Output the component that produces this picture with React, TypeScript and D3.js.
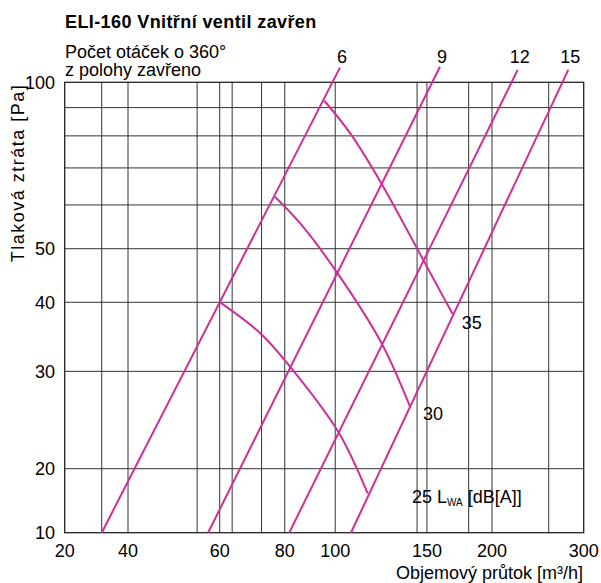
import React from "react";
import * as d3 from "d3";

// axis ticks (labels as printed on the chart)
const X_TICKS = [20, 40, 60, 80, 100, 150, 200, 300];
const Y_TICKS = [10, 20, 30, 40, 50, 100];
// grid lines
const X_GRID = [30, 40, 54.3, 60, 63.4, 72.2, 80, 100, 143.6, 150, 180.4, 200, 257];
const Y_GRID = [20, 30, 40, 50, 60, 70, 80, 90];

// valve-turn lines [flow m3/h, pressure Pa]
const TURN_LABELS = ["6", "9", "12", "15"];
const turn6 = [[30.0, 10], [102.1, 106.3]];
const turn9 = [[57.0, 10], [158.9, 106.7]];
const turn12 = [[81.6, 10], [224.1, 105.3]];
const turn15 = [[107.2, 10], [280.2, 105.3]];

// noise curves LWA dB(A)
const noise35 = [[95.3, 92.6], [106.8, 80.9], [122.8, 65.5], [147.6, 47.7], [162.4, 40.4], [168.1, 38.1]];
const noise30 = [[76.6, 62.1], [85.6, 55.6], [100.6, 45.4], [122.8, 33.7], [139.2, 25.9]];
const noise25 = [[60.3, 39.9], [71.7, 35.2], [82.1, 30.5], [101.4, 23.3], [115.4, 15.3]];

const FONT = "'Liberation Sans', Arial, sans-serif";
const PINK = "#cc2f98";

export default function App() {
  const W = 601, H = 583;
  const L = 64.7, R = 583.7, T = 82.3, B = 532.7;
  // axes are broken in the first segment (20–40 and 10–20)
  const x = d3.scaleLog().domain([20, 40, 300]).range([L, 128, R]);
  const y = d3.scaleLog().domain([10, 20, 100]).range([B, 468.7, T]);

  const straight = d3.line<number[]>().x(d => x(d[0])).y(d => y(d[1]));
  const curved = d3.line<number[]>().x(d => x(d[0])).y(d => y(d[1])).curve(d3.curveCatmullRom.alpha(0.5));

  const turns = [turn6, turn9, turn12, turn15];
  const noises = [noise25, noise30, noise35];

  return (
    <svg width={W} height={H} style={{ position: "absolute", left: 0, top: 0 }} fontFamily={FONT}>
      <rect x={0} y={0} width={W} height={H} fill="#fff" />
      <text x={65} y={28} fontSize={18} fontWeight="bold" letterSpacing={0.4}>ELI-160 Vnitřní ventil zavřen</text>
      <text x={65} y={58} fontSize={18}>Počet otáček o 360°</text>
      <text x={65} y={76} fontSize={18}>z polohy zavřeno</text>

      {/* grid */}
      {X_GRID.map((v, i) => (
        <line key={"gx" + i} x1={x(v)} x2={x(v)} y1={T} y2={B} stroke="#333" strokeWidth={1} />
      ))}
      {Y_GRID.map((v, i) => (
        <line key={"gy" + i} x1={L} x2={R} y1={y(v)} y2={y(v)} stroke="#333" strokeWidth={1} />
      ))}
      <rect x={L} y={T} width={R - L} height={B - T} fill="none" stroke="#222" strokeWidth={1.3} />

      {/* tick labels */}
      {X_TICKS.map((v, i) => (
        <text key={"tx" + i} x={x(v)} y={557} fontSize={18} textAnchor="middle">{v}</text>
      ))}
      {Y_TICKS.map((v, i) => (
        <text key={"ty" + i} x={55} y={y(v)} dy="0.35em" fontSize={18} textAnchor="end">{v}</text>
      ))}

      <text x={583} y={579} fontSize={18} textAnchor="end">Objemový průtok [m³/h]</text>
      <text transform={`translate(24,${173}) rotate(-90)`} fontSize={18} letterSpacing={1.5} textAnchor="middle">Tlaková ztráta [Pa]</text>

      {/* curves */}
      {turns.map((d, i) => (
        <path key={"t" + i} d={straight(d) || ""} fill="none" stroke={PINK} strokeWidth={2} />
      ))}
      {noises.map((d, i) => (
        <path key={"n" + i} d={curved(d) || ""} fill="none" stroke={PINK} strokeWidth={2} />
      ))}

      {turns.map((d, i) => (
        <text key={"tl" + i} x={x(d[1][0]) + 2} y={63} fontSize={18} textAnchor="middle">{TURN_LABELS[i]}</text>
      ))}

      <text x={x(noise35[noise35.length - 1][0]) + 9} y={329} fontSize={18}>35</text>
      <text x={x(noise30[noise30.length - 1][0]) + 13} y={420} fontSize={18}>30</text>
      <text x={412} y={503} fontSize={18}>
        25 L<tspan fontSize={10} dy={3}>WA</tspan><tspan dy={-3} fontSize={18}> [dB[A]]</tspan>
      </text>
    </svg>
  );
}
